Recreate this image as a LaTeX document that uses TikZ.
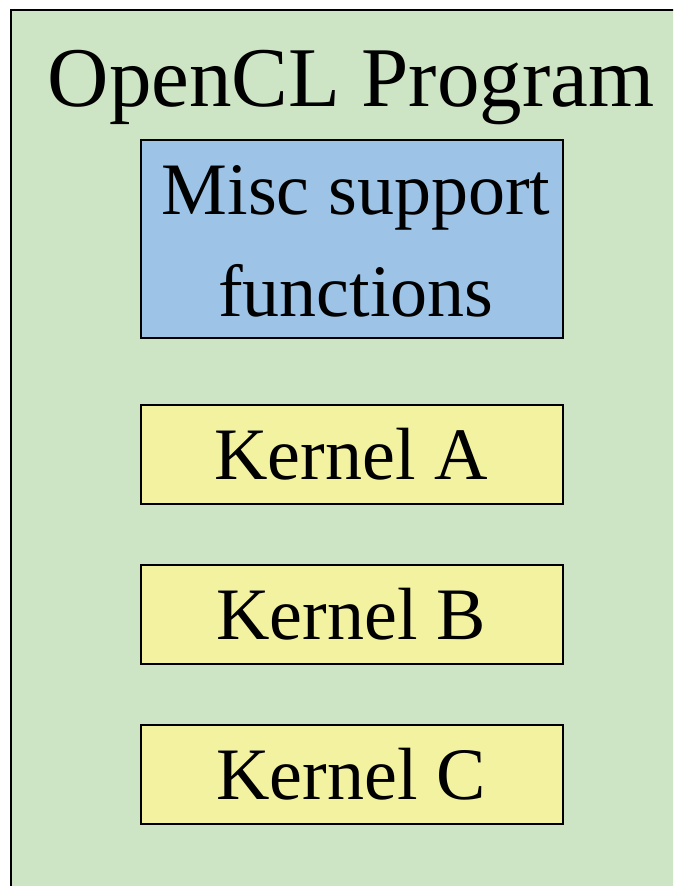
\documentclass[tikz,border=0pt]{standalone}
\usepackage{fontspec}
\setmainfont{Liberation Serif}
\definecolor{progGreen}{HTML}{CDE5C4}
\definecolor{miscBlue}{HTML}{9DC3E6}
\definecolor{kernYellow}{HTML}{F3F2A1}
\tikzset{
  blockbox/.style={draw=black, line width=2pt, minimum width=422pt, inner sep=0pt, anchor=north west},
  bigtext/.style={font=\fontsize{74}{99}\selectfont, text=black, anchor=base},
}
\begin{document}
\begin{tikzpicture}[x=1pt,y=-1pt]
\useasboundingbox (0,0) rectangle (673,886);
\begin{scope}
\clip (0,0) rectangle (673,886);
\draw[fill=progGreen, draw=black, line width=2pt] (11,10) rectangle (700,920);
\end{scope}
\node[font=\fontsize{85}{100}\selectfont, anchor=base] (title) at (351,106) {OpenCL Program};
\node[blockbox, fill=miscBlue, minimum height=198pt] (misc) at (140,139) {};
\node[bigtext] (misc1) at (356,214) {Misc support};
\node[bigtext] (misc2) at (356,316) {functions};
\node[blockbox, fill=kernYellow, minimum height=99pt] (ka) at (140,404) {};
\node[bigtext] (kalabel) at (351,479) {Kernel A};
\node[blockbox, fill=kernYellow, minimum height=99pt] (kb) at (140,564) {};
\node[bigtext] (kblabel) at (351,639) {Kernel B};
\node[blockbox, fill=kernYellow, minimum height=99pt] (kc) at (140,724) {};
\node[bigtext] (kclabel) at (351,799) {Kernel C};
\end{tikzpicture}
\end{document}
